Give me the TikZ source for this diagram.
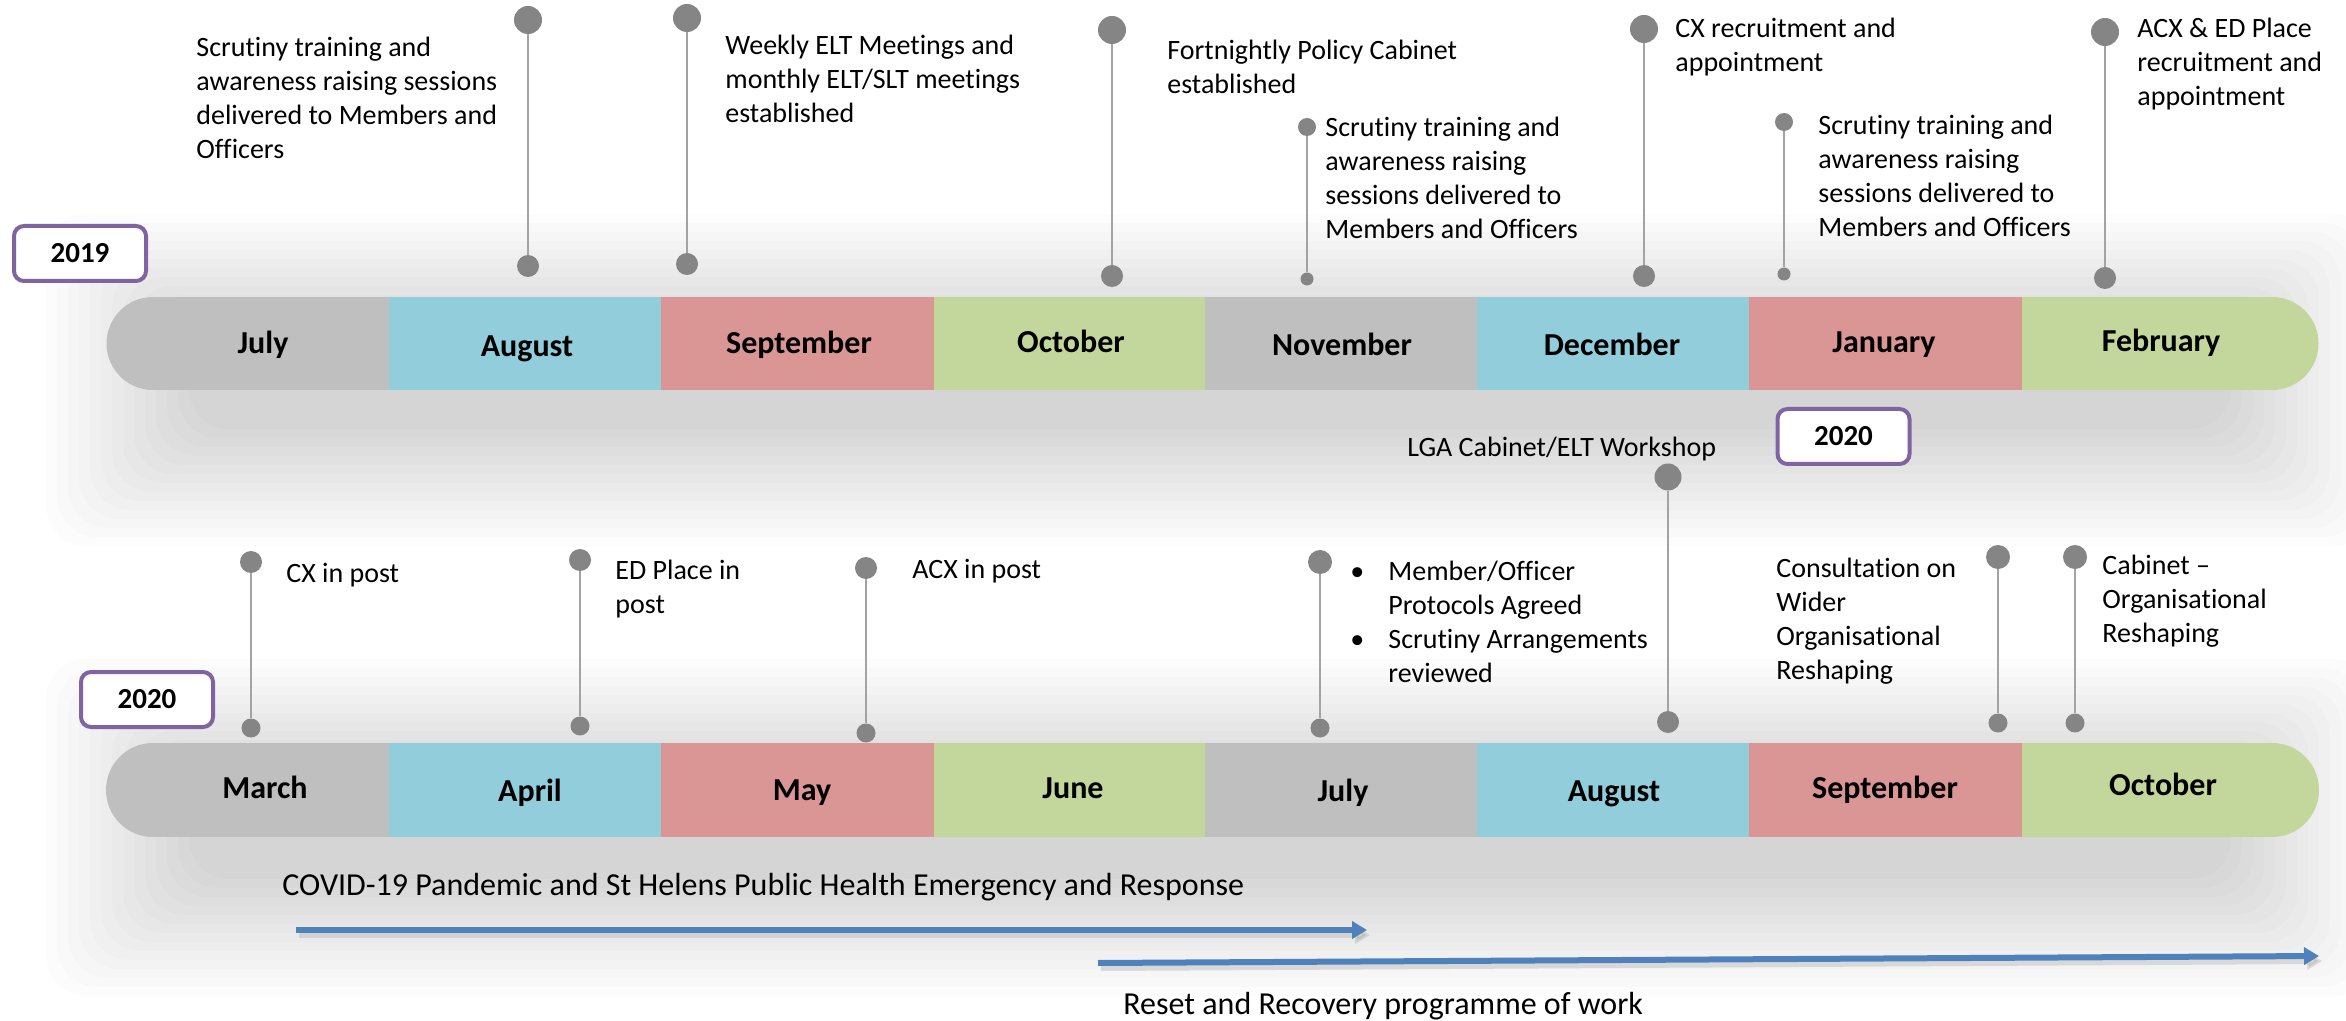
\documentclass[tikz,border=0pt]{standalone}
\usepackage{fontspec}
\setmainfont{Carlito}[Ligatures={TeX,NoCommon}]
\usetikzlibrary{arrows.meta}
\definecolor{mgray}{HTML}{BFBFBF}
\definecolor{mblue}{HTML}{92CDDC}
\definecolor{mred}{HTML}{D99694}
\definecolor{mgreen}{HTML}{C3D69B}
\definecolor{ypurple}{HTML}{8064A2}
\definecolor{abl}{HTML}{4F81BD}
\definecolor{pindot}{HTML}{858585}
\definecolor{pinline}{HTML}{A3A3A3}
\begin{document}
\begin{tikzpicture}[x=0.5pt,y=-0.5pt,
  evtext/.style={font=\fontsize{14}{17}\selectfont, anchor=base west, align=left, inner sep=0pt},
  bigtext/.style={font=\fontsize{16}{19}\selectfont, anchor=base west, inner sep=0pt},
  month/.style={font=\fontsize{16}{19}\bfseries\selectfont, anchor=base, inner sep=0pt},
  yearbox/.style={draw=ypurple, line width=2pt, rounded corners=5pt, fill=white,
    minimum width=66pt, minimum height=27.5pt, inner sep=0pt,
    font=\fontsize{14.5}{17}\bfseries\selectfont},
  dot/.style={circle, fill=pindot, inner sep=0pt, minimum size=#1},
  pinl/.style={draw=pinline, line width=1.1pt},
  tlarrow/.style={draw=abl, line width=3pt, -{Triangle[length=7.5pt,width=8.5pt]}},
  tlshadow/.style={draw=black!35, opacity=0.35, line width=3pt, -{Triangle[length=7.5pt,width=8.5pt]}}
]
\useasboundingbox (0,0) rectangle (2346,1021);
\fill[white] (0,0) rectangle (2346,1021);

% soft shadows behind the bars
\foreach \i in {1,...,14}{
  \fill[black, opacity=0.010, rounded corners=20pt]
    (200-\i*11, 340-\i*9) rectangle (2220+\i*11, 420+\i*9);
  \fill[black, opacity=0.010, rounded corners=20pt]
    (200-\i*11, 785-\i*9) rectangle (2220+\i*11, 870+\i*9);
}

% ---------- top bar (2019/2020) ----------
\fill[mgray] (153,297) rectangle (389.5,390);
\fill[mgray] (153,343.5) circle (23.25pt);
\fill[mblue] (389,297) rectangle (661.5,390);
\fill[mred] (661,297) rectangle (934.5,390);
\fill[mgreen] (934,297) rectangle (1205.5,390);
\fill[mgray] (1205,297) rectangle (1477.5,390);
\fill[mblue] (1477,297) rectangle (1749.5,390);
\fill[mred] (1749,297) rectangle (2022.5,390);
\fill[mgreen] (2022,297) rectangle (2272,390);
\fill[mgreen] (2272,343.5) circle (23.25pt);

\node[month] (m1) at (263,354) {July};
\node[month] (m2) at (527,357) {August};
\node[month] (m3) at (799,354) {September};
\node[month] (m4) at (1071,353) {October};
\node[month] (m5) at (1342,356) {November};
\node[month] (m6) at (1612,356) {December};
\node[month] (m7) at (1884,353) {January};
\node[month] (m8) at (2161,352) {February};

% ---------- bottom bar (2020) ----------
\fill[mgray] (153,743) rectangle (389.5,837);
\fill[mgray] (153,790) circle (23.5pt);
\fill[mblue] (389,743) rectangle (661.5,837);
\fill[mred] (661,743) rectangle (934.5,837);
\fill[mgreen] (934,743) rectangle (1205.5,837);
\fill[mgray] (1205,743) rectangle (1477.5,837);
\fill[mblue] (1477,743) rectangle (1749.5,837);
\fill[mred] (1749,743) rectangle (2022.5,837);
\fill[mgreen] (2022,743) rectangle (2272,837);
\fill[mgreen] (2272,790) circle (23.5pt);

\node[month] (n1) at (265,798) {March};
\node[month] (n2) at (530,801) {April};
\node[month] (n3) at (802,800) {May};
\node[month] (n4) at (1073,798) {June};
\node[month] (n5) at (1343,801) {July};
\node[month] (n6) at (1614,801) {August};
\node[month] (n7) at (1885,798) {September};
\node[month] (n8) at (2163,795) {October};

% ---------- year boxes ----------
\node[yearbox] (y2019) at (80,253.5) {2019};
\node[yearbox] (y2020a) at (1843.5,436.5) {2020};
\node[yearbox] (y2020b) at (147,699.5) {2020};

% ---------- top pins ----------
\node[dot=14pt] (a1t) at (528,20) {};  \node[dot=11pt] (a1b) at (528,266) {};
\node[dot=14pt] (a2t) at (687,18) {};  \node[dot=11pt] (a2b) at (687,264) {};
\node[dot=14pt] (a3t) at (1112,30) {}; \node[dot=11pt] (a3b) at (1112,276) {};
\node[dot=9pt]  (a4t) at (1307,127) {};\node[dot=6.5pt] (a4b) at (1307,279) {};
\node[dot=14pt] (a5t) at (1644,29) {}; \node[dot=11pt] (a5b) at (1644,276) {};
\node[dot=9pt]  (a6t) at (1784,122) {};\node[dot=6.5pt] (a6b) at (1784,274) {};
\node[dot=14pt] (a7t) at (2105,32) {}; \node[dot=11pt] (a7b) at (2105,278) {};
\foreach \k in {1,...,7}{ \draw[pinl] (a\k t) -- (a\k b); }

% (anchor base = baseline of the last line)
\node[evtext] (t1) at (196,159) {Scrutiny training and\\awareness raising sessions\\delivered to Members and\\Officers};
\node[evtext] (t2) at (725,123) {Weekly ELT Meetings and\\monthly ELT/SLT meetings\\established};
\node[evtext] (t3) at (1167,94) {Fortnightly Policy Cabinet\\established};
\node[evtext] (t4) at (1325,239) {Scrutiny training and\\awareness raising\\sessions delivered to\\Members and Officers};
\node[evtext] (t5) at (1675,72) {CX recruitment and\\appointment};
\node[evtext] (t6) at (1818,237) {Scrutiny training and\\awareness raising\\sessions delivered to\\Members and Officers};
\node[evtext] (t7) at (2137,106) {ACX \& ED Place\\recruitment and\\appointment};

% ---------- bottom pins ----------
\node[dot=11pt] (b1t) at (251,562) {};   \node[dot=9.5pt] (b1b) at (251,728) {};
\node[dot=11pt] (b2t) at (580,560) {};   \node[dot=9.5pt] (b2b) at (580,726) {};
\node[dot=11pt] (b3t) at (866,568) {};   \node[dot=9.5pt] (b3b) at (866,733) {};
\node[dot=12pt] (b4t) at (1320,562) {};  \node[dot=9.5pt] (b4b) at (1320,728) {};
\node[dot=13.5pt] (b5t) at (1668,477) {};\node[dot=11pt] (b5b) at (1668,722) {};
\node[dot=12pt] (b6t) at (1998,557) {};  \node[dot=9.5pt] (b6b) at (1998,723) {};
\node[dot=12pt] (b7t) at (2075,557) {};  \node[dot=9.5pt] (b7b) at (2075,723) {};
\foreach \k in {1,...,7}{ \draw[pinl] (b\k t) -- (b\k b); }

\node[evtext] (s1) at (286,582) {CX in post};
\node[evtext] (s2) at (615,613) {ED Place in\\post};
\node[evtext] (s3) at (912,578) {ACX in post};
\node[evtext] (s4) at (1388,682) {\llap{•\hspace{12pt}}Member/Officer\\Protocols Agreed\\\llap{•\hspace{12pt}}Scrutiny Arrangements\\reviewed};
\node[evtext] (s5) at (1407,457) {LGA Cabinet/ELT Workshop};
\node[evtext] (s6) at (1776,679) {Consultation on\\Wider\\Organisational\\Reshaping};
\node[evtext] (s7) at (2102,642) {Cabinet --\\Organisational\\Reshaping};

% ---------- programme arrows ----------
\node[bigtext] (covid) at (282,895) {COVID-19 Pandemic and St Helens Public Health Emergency and Response};
\node[bigtext] (reset) at (1123,1014) {Reset and Recovery programme of work};
\coordinate (c1s) at (296,930);
\coordinate (c1e) at (1367,930);
\coordinate (c2s) at (1098,963);
\coordinate (c2e) at (2319,956);
\draw[tlshadow] ([shift={(3,5)}]c1s) -- ([shift={(3,5)}]c1e);
\draw[tlshadow] ([shift={(3,5)}]c2s) -- ([shift={(3,5)}]c2e);
\draw[tlarrow] (c1s) -- (c1e);
\draw[tlarrow] (c2s) -- (c2e);
\end{tikzpicture}
\end{document}
